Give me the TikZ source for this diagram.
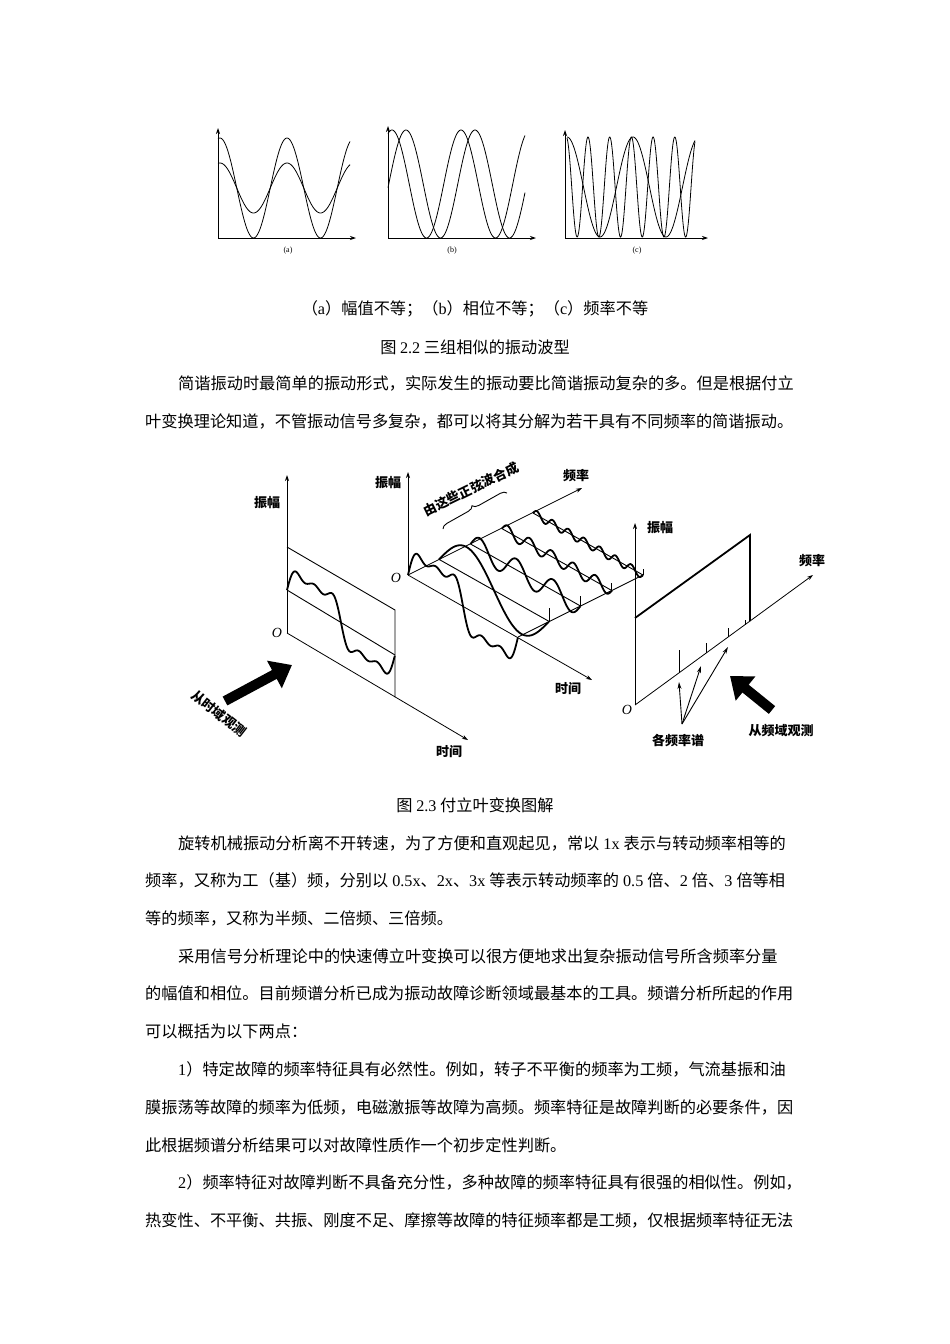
\documentclass[tikz,border=0pt]{standalone}
\usepackage{fontspec}
\setmainfont{Liberation Serif}
\newfontfamily\cjk{Noto Sans CJK SC}
\usetikzlibrary{arrows.meta,decorations.pathreplacing}
\newcommand\lt[1]{{\rmfamily #1}}
\tikzset{
  txt/.style={inner sep=0, font=\cjk\fontsize{16.2}{18}\selectfont},
  lab/.style={inner sep=0, font=\cjk\bfseries\fontsize{13}{14}\selectfont},
  ax/.style={line width=0.8pt, -{Stealth[length=6pt,width=4pt]}},
  wv/.style={line width=0.8pt},
  thk/.style={line width=1.8pt},
  grid/.style={line width=0.9pt},
  big/.style={line width=10pt, -{Triangle[length=20pt,width=30pt]}},
}
\begin{document}
\begin{tikzpicture}[x=1pt,y=-1pt]
\useasboundingbox (0,0) rectangle (950,1344);
\fill[white] (0,0) rectangle (950,1344);
% ---- Fig 2.2 ----
\draw[ax] (218,238) -- (218,128);
\draw[ax] (218,238) -- (356,238);
\draw[wv] plot[domain=218:350,samples=120,smooth] (\x,{188-50*cos(5.3731*(\x-220))});
\draw[wv] plot[domain=218:350,samples=120,smooth] (\x,{188-25*cos(5.3731*(\x-220))});
\node[font=\fontsize{8}{9}\selectfont,inner sep=0] (la) at (288,251) {(a)};
\draw[ax] (388,238) -- (388,126);
\draw[ax] (388,238) -- (536,238);
\draw[wv] plot[domain=388:525,samples=120,smooth] (\x,{184-54*cos(5.2174*(\x-392))});
\draw[wv] plot[domain=388:525,samples=120,smooth] (\x,{184-54*cos(5.2174*(\x-406))});
\node[font=\fontsize{8}{9}\selectfont,inner sep=0] (lb) at (452,251) {(b)};
\draw[ax] (565,238) -- (565,130);
\draw[ax] (565,238) -- (708,238);
\draw[wv] plot[domain=567:695,samples=120,smooth] (\x,{187-50*cos(5.4545*(\x-567))});
\draw[wv] plot[domain=567:695,samples=300,smooth] (\x,{187-50*cos(16.59*(\x-588))});
\node[font=\fontsize{8}{9}\selectfont,inner sep=0] (lc) at (637,251) {(c)};
\node[txt] (cap1) at (475,309) {（\lt{a}）幅值不等；（\lt{b}）相位不等；（\lt{c}）频率不等};
\node[txt] (cap2) at (475,347) {图 \lt{2.2} 三组相似的振动波型};
\node[txt,anchor=west] (p1) at (178,384) {简谐振动时最简单的振动形式，实际发生的振动要比简谐振动复杂的多。但是根据付立};
\node[txt,anchor=west] (p2) at (145,421) {叶变换理论知道，不管振动信号多复杂，都可以将其分解为若干具有不同频率的简谐振动。};
% ---- Fig 2.3 left ----
\draw[ax] (287,633) -- (287,475);
\draw[ax] (287,633) -- (468,740);
\draw[grid] (287,547) -- (395,610) -- (395,697);
\draw[grid] (287,590) -- (395,655);
\draw[thk] plot[variable=\t,domain=0:1,samples=150,smooth] ({287+108*\t},{590+65*\t-20*(4/pi)*(sin(360*\t)+sin(1080*\t)/3+sin(1800*\t)/5)});
\node[lab] (a1) at (267,503) {振幅};
\node[font=\itshape\fontsize{14}{14}\selectfont,inner sep=0] (o1) at (277,633) {O};
\node[lab] (t1) at (449,752) {时间};
\draw[big] (225,701) -- (292,665);
\node[lab,rotate=-38] (v1) at (219,714) {从时域观测};
% ---- middle ----
\draw[ax] (408,575) -- (408,472);
\draw[ax] (408,575) -- (582,488);
\draw[ax] (408,575) -- (592,680);
\foreach \f in {0.25,0.5,0.75,1}
  \draw[grid] ({408+125*\f},{575-62*\f}) -- ({518+125*\f},{637-62*\f});
\draw[grid] (518,637) -- (643,575);
\foreach \f/\h in {0.25/14,0.5/10,0.75/8,1/6}
  \draw[grid] ({518+125*\f},{637-62*\f}) -- ({518+125*\f},{637-62*\f-\h});
\draw[thk] plot[variable=\t,domain=0:1,samples=150,smooth] ({408+110*\t},{575+62*\t-22*(4/pi)*(sin(360*\t)+sin(1080*\t)/3+sin(1800*\t)/5)});
\draw[thk] plot[variable=\t,domain=0:1,samples=150,smooth] ({439+110*\t},{559.5+62*\t-28*sin(360*\t)});
\draw[thk] plot[variable=\t,domain=0:1,samples=150,smooth] ({470.5+110*\t},{544+62*\t-11*sin(1080*\t)});
\draw[thk] plot[variable=\t,domain=0:1,samples=200,smooth] ({502+110*\t},{528.5+62*\t-6*sin(1800*\t)});
\draw[thk] plot[variable=\t,domain=0:1,samples=250,smooth] ({533+110*\t},{513+62*\t-4*sin(2520*\t)});
\node[lab] (a2) at (388,483) {振幅};
\node[font=\itshape\fontsize{14}{14}\selectfont,inner sep=0] (o2) at (396,578) {O};
\node[lab] (f2) at (576,476) {频率};
\node[lab] (t2) at (568,689) {时间};
\node[lab,rotate=26] (s2) at (471,489) {由这些正弦波合成};
\coordinate (b1) at (443,529);
\coordinate (b2) at (507,493);
\draw[grid,decorate,decoration={brace,amplitude=6pt}] (b1) -- (b2);
% ---- right ----
\draw[ax] (635,705) -- (635,523);
\draw[ax] (635,705) -- (813,575);
\draw[thk] (635,618) -- (750,535) -- (750,621);
\foreach \x/\h in {679/23,706/10,728/9,745/5}
  \draw[grid] (\x,{705-0.73*(\x-635)}) -- (\x,{705-0.73*(\x-635)-\h});
\node[lab] (a3) at (660,528) {振幅};
\node[lab] (f3) at (812,561) {频率};
\node[font=\itshape\fontsize{14}{14}\selectfont,inner sep=0] (o3) at (627,710) {O};
\node[lab] (g3) at (678,741) {各频率谱};
\coordinate (g0) at (682,724);
\draw[grid,-{Stealth[length=7pt,width=4pt]}] (g0) -- (679,682);
\draw[grid,-{Stealth[length=7pt,width=4pt]}] (g0) -- (701,666);
\draw[grid,-{Stealth[length=7pt,width=4pt]}] (g0) -- (728,647);
\draw[big] (772,710) -- (730,676);
\node[lab] (v3) at (781,731) {从频域观测};
% ---- text ----
\node[txt] (cap3) at (475,805) {图 \lt{2.3} 付立叶变换图解};
\node[txt,anchor=west] (q1) at (178,843) {旋转机械振动分析离不开转速，为了方便和直观起见，常以\lt{ 1x }表示与转动频率相等的};
\node[txt,anchor=west] (q2) at (145,880) {频率，又称为工（基）频，分别以\lt{ 0.5x}、\lt{2x}、\lt{3x }等表示转动频率的\lt{ 0.5 }倍、\lt{2 }倍、\lt{3 }倍等相};
\node[txt,anchor=west] (q3) at (145,918) {等的频率，又称为半频、二倍频、三倍频。};
\node[txt,anchor=west] (q4) at (178,956) {采用信号分析理论中的快速傅立叶变换可以很方便地求出复杂振动信号所含频率分量};
\node[txt,anchor=west] (q5) at (145,993) {的幅值和相位。目前频谱分析已成为振动故障诊断领域最基本的工具。频谱分析所起的作用};
\node[txt,anchor=west] (q6) at (145,1031) {可以概括为以下两点：};
\node[txt,anchor=west] (q7) at (178,1069) {\lt{1}）特定故障的频率特征具有必然性。例如，转子不平衡的频率为工频，气流基振和油};
\node[txt,anchor=west] (q8) at (145,1107) {膜振荡等故障的频率为低频，电磁激振等故障为高频。频率特征是故障判断的必要条件，因};
\node[txt,anchor=west] (q9) at (145,1145) {此根据频谱分析结果可以对故障性质作一个初步定性判断。};
\node[txt,anchor=west] (q10) at (178,1182) {\lt{2}）频率特征对故障判断不具备充分性，多种故障的频率特征具有很强的相似性。例如，};
\node[txt,anchor=west] (q11) at (145,1220) {热变性、不平衡、共振、刚度不足、摩擦等故障的特征频率都是工频，仅根据频率特征无法};
\end{tikzpicture}
\end{document}
